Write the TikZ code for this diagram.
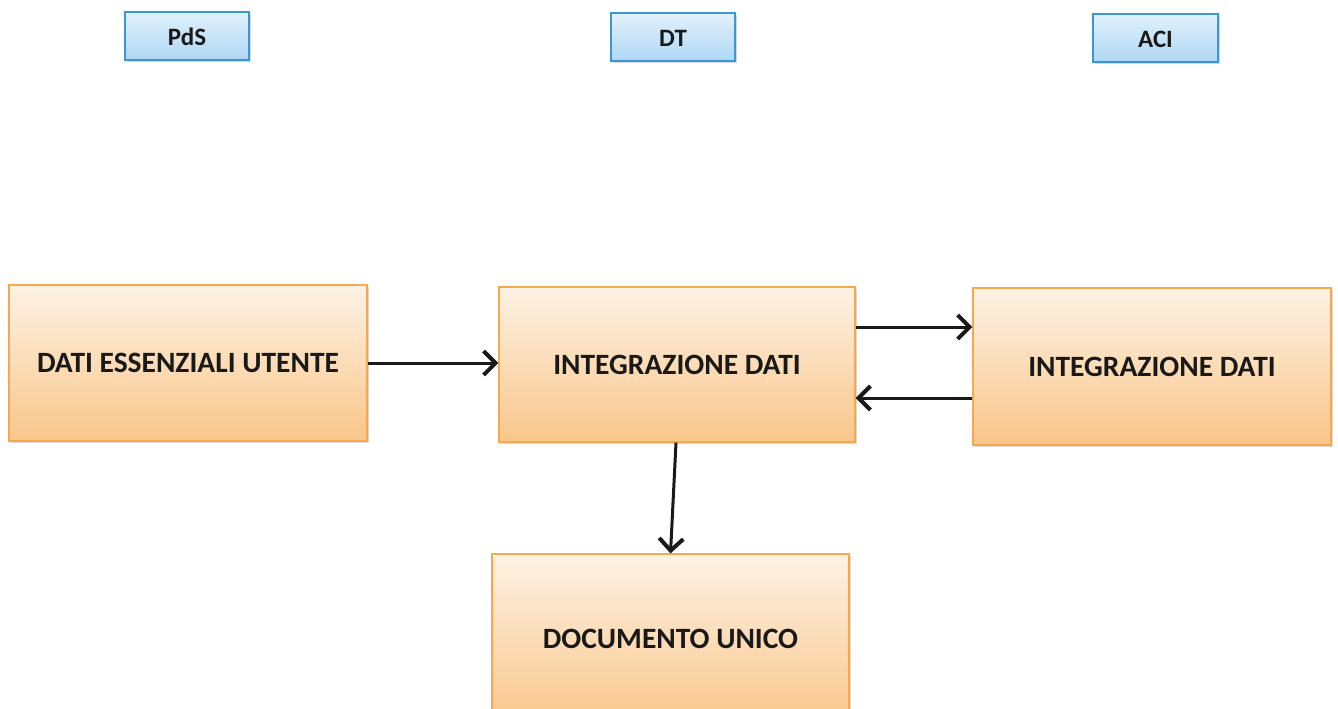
\documentclass[tikz,border=0pt]{standalone}
\usepackage{fontspec}
\setmainfont{Carlito}
\usetikzlibrary{arrows.meta,shadows}
\definecolor{boxedge}{HTML}{F5A94B}
\definecolor{boxtop}{HTML}{FDF2E4}
\definecolor{boxbot}{HTML}{F9C68A}
\definecolor{tagedge}{HTML}{3C96D2}
\definecolor{tagtop}{HTML}{E2F1FC}
\definecolor{tagbot}{HTML}{AED7F5}
\tikzset{
  procbox/.style={draw=boxedge, line width=1.2pt, top color=boxtop, bottom color=boxbot,
    font=\fontsize{29.5}{33}\selectfont\bfseries, text=black!90,
    drop shadow={shadow xshift=2pt, shadow yshift=-2pt, opacity=0.25, fill=black!60}},
  tagbox/.style={draw=tagedge, line width=1.2pt, top color=tagtop, bottom color=tagbot,
    font=\fontsize{25}{28}\selectfont\bfseries, text=black!90,
    minimum height=48pt, text depth=0pt, text height=20pt,
    drop shadow={shadow xshift=2pt, shadow yshift=-2pt, opacity=0.25, fill=black!60}},
  flow/.style={draw=black!90, line width=3pt, -{Straight Barb[length=12pt,width=24pt,line width=4pt]}}
}
\begin{document}
\begin{tikzpicture}[x=1pt,y=-1pt]
\useasboundingbox[fill=white] (0,0) rectangle (1338,709);
% role tags
\node[tagbox, minimum width=124pt] (pds) at (187,36) {PdS};
\node[tagbox, minimum width=124pt] (dt) at (673,37) {DT};
\node[tagbox, minimum width=125pt] (aci) at (1155.5,38) {ACI};
% process boxes
\node[procbox, minimum width=358pt, minimum height=156pt] (dati) at (188,363) {DATI ESSENZIALI UTENTE};
\node[procbox, minimum width=356pt, minimum height=155pt] (intdt) at (677,364.5) {INTEGRAZIONE DATI};
\node[procbox, minimum width=358pt, minimum height=157pt] (intaci) at (1152,366.5) {INTEGRAZIONE DATI};
\node[procbox, minimum width=357pt, minimum height=170pt] (doc) at (670.5,639) {DOCUMENTO UNICO};
% connectors
\draw[flow] (dati.east |- 0,363) -- (intdt.west |- 0,363);
\draw[flow] (intdt.east |- 0,327) -- (intaci.west |- 0,327);
\draw[flow] (intaci.west |- 0,398) -- (intdt.east |- 0,398);
\draw[flow] ([xshift=-1pt]intdt.south) -- (doc.north);
\end{tikzpicture}
\end{document}
